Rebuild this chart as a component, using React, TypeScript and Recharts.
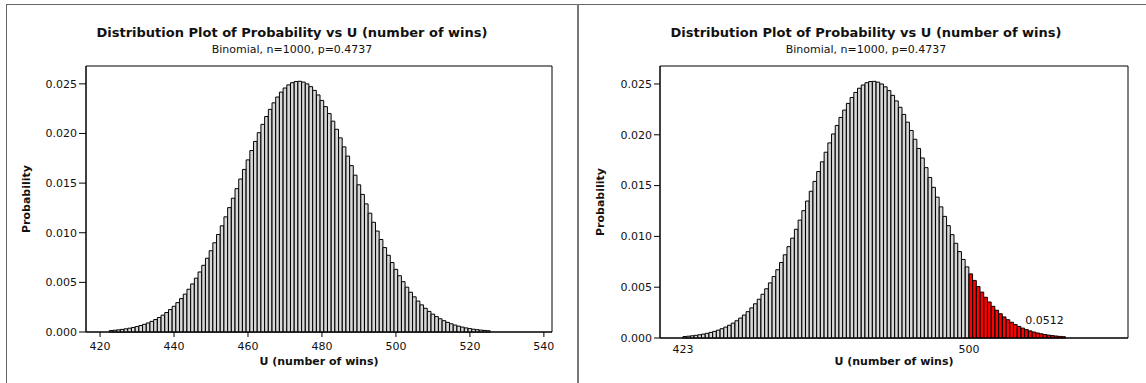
import React from 'react';
import { BarChart, Bar, XAxis, YAxis, ReferenceArea, ReferenceDot, Rectangle } from 'recharts';

// number of wins (one bar each)
const wins = [
  423, 424, 425, 426, 427, 428, 429, 430, 431, 432,
  433, 434, 435, 436, 437, 438, 439, 440, 441, 442,
  443, 444, 445, 446, 447, 448, 449, 450, 451, 452,
  453, 454, 455, 456, 457, 458, 459, 460, 461, 462,
  463, 464, 465, 466, 467, 468, 469, 470, 471, 472,
  473, 474, 475, 476, 477, 478, 479, 480, 481, 482,
  483, 484, 485, 486, 487, 488, 489, 490, 491, 492,
  493, 494, 495, 496, 497, 498, 499, 500, 501, 502,
  503, 504, 505, 506, 507, 508, 509, 510, 511, 512,
  513, 514, 515, 516, 517, 518, 519, 520, 521, 522,
  523, 524, 525,
];

// probability of each number of wins
const probability = [
  0.000146, 0.000178, 0.000217, 0.000264, 0.000318, 0.000383, 0.000459, 0.000549, 0.000652, 0.000773,
  0.000912, 0.001071, 0.001253, 0.001461, 0.001696, 0.001961, 0.002258, 0.00259, 0.002959, 0.003367,
  0.003816, 0.004308, 0.004843, 0.005423, 0.006048, 0.006718, 0.007433, 0.008191, 0.008989, 0.009827,
  0.010699, 0.011602, 0.01253, 0.013479, 0.014442, 0.015412, 0.016381, 0.017341, 0.018283, 0.0192,
  0.020082, 0.020921, 0.021708, 0.022433, 0.023091, 0.023672, 0.024171, 0.024582, 0.024899, 0.02512,
  0.025241, 0.025261, 0.025181, 0.024999, 0.02472, 0.024346, 0.023882, 0.023333, 0.022705, 0.022006,
  0.021242, 0.020424, 0.019558, 0.018654, 0.01772, 0.016766, 0.0158, 0.01483, 0.013863, 0.012908,
  0.01197, 0.011056, 0.010171, 0.00932, 0.008505, 0.007731, 0.006999, 0.006311, 0.005668, 0.00507,
  0.004517, 0.004008, 0.003542, 0.003118, 0.002733, 0.002387, 0.002076, 0.001798, 0.001551, 0.001333,
  0.001141, 0.000973, 0.000826, 0.000698, 0.000588, 0.000493, 0.000412, 0.000343, 0.000284, 0.000235,
  0.000193, 0.000158, 0.000129,
];

const leftTicks = [420, 440, 460, 480, 500, 520, 540];
const rightTicks = [423, 500];
const yTicks = [0, 0.005, 0.01, 0.015, 0.02, 0.025];

const tailStart = 500;
const tailArea = '0.0512';
const tailLabelAt = { u: 520.3, p: 0.00177 };

const title = 'Distribution Plot of Probability vs U (number of wins)';
const subtitle = 'Binomial, n=1000, p=0.4737';
const xTitle = 'U (number of wins)';
const yTitle = 'Probability';

const rows = wins.map((u, i) => ({ u, p: probability[i] }));

const FONT = '"DejaVu Sans", Verdana, sans-serif';
const BAR_FILL = '#d8d8d8';
const TAIL_FILL = '#ff0000';
const INK = '#111';

const tickStyle = { fill: INK, fontSize: 11, fontFamily: FONT };

const leftX: [number, number] = [416.2, 542.2];
const leftY: [number, number] = [0, 0.0268];
const rightX: [number, number] = [416.8, 542.8];
const rightY: [number, number] = [0, 0.02677];

const XTitle = ({ viewBox, baseline }: any) => {
  const { x, width } = viewBox;
  return (
    <text x={x + width / 2} y={baseline} textAnchor="middle" fontSize={11} fontWeight="bold" fontFamily={FONT} fill={INK}>
      {xTitle}
    </text>
  );
};

const YTitle = ({ viewBox, inset }: any) => {
  const { x, y, height } = viewBox;
  const cx = x + inset;
  const cy = y + height / 2;
  return (
    <text x={cx} y={cy} transform={`rotate(-90 ${cx} ${cy})`} textAnchor="middle" fontSize={11} fontWeight="bold" fontFamily={FONT} fill={INK}>
      {yTitle}
    </text>
  );
};

// right panel draws each bar from u to u+1 and shades the tail red
const TailBar = (props: any) => {
  const { x, width, payload } = props;
  return (
    <Rectangle
      {...props}
      x={x + width / 2}
      fill={payload.u >= tailStart ? TAIL_FILL : BAR_FILL}
      stroke="#000"
      strokeWidth={1}
    />
  );
};

const Titles = ({ cx }: { cx: number }) => (
  <>
    <text x={cx} y={37} textAnchor="middle" fontSize={13} fontWeight="bold" fontFamily={FONT} fill={INK}>
      {title}
    </text>
    <text x={cx} y={53} textAnchor="middle" fontSize={11} fontFamily={FONT} fill={INK}>
      {subtitle}
    </text>
  </>
);

export default function App() {
  return (
    <div style={{ position: 'absolute', left: 0, top: 0, width: 1146, height: 383, background: '#fff', overflow: 'hidden' }}>
      <div style={{ position: 'absolute', left: 0, top: 0 }}>
        <BarChart
          width={578}
          height={383}
          data={rows}
          margin={{ top: 66, right: 26, bottom: 15, left: 26 }}
          barCategoryGap={0}
          barGap={0}
          style={{ fontFamily: FONT }}
        >
          <XAxis
            dataKey="u"
            type="number"
            domain={leftX}
            ticks={leftTicks}
            interval={0}
            height={36}
            tickSize={5}
            tickMargin={5}
            axisLine={{ stroke: '#000' }}
            tickLine={{ stroke: '#000' }}
            tick={tickStyle}
            label={<XTitle baseline={365} />}
          />
          <YAxis
            type="number"
            domain={leftY}
            ticks={yTicks}
            interval={0}
            width={60}
            tickSize={7}
            tickMargin={2}
            tickFormatter={(v: number) => v.toFixed(3)}
            axisLine={{ stroke: '#000' }}
            tickLine={{ stroke: '#000' }}
            tick={tickStyle}
            label={<YTitle inset={4} />}
          />
          <Bar dataKey="p" fill={BAR_FILL} stroke="#000" strokeWidth={1} barSize={3.6} isAnimationActive={false} />
          <ReferenceArea x1={leftX[0]} x2={leftX[1]} y1={leftY[0]} y2={leftY[1]} fill="none" stroke="#000" ifOverflow="visible" />
        </BarChart>
      </div>

      <div style={{ position: 'absolute', left: 579, top: 0 }}>
        <BarChart
          width={567}
          height={383}
          data={rows}
          margin={{ top: 66, right: 18, bottom: 9, left: 21 }}
          barCategoryGap={0}
          barGap={0}
          style={{ fontFamily: FONT }}
        >
          <XAxis
            dataKey="u"
            type="number"
            domain={rightX}
            ticks={rightTicks}
            interval={0}
            height={36}
            tickSize={5}
            tickMargin={2}
            axisLine={{ stroke: '#000' }}
            tickLine={false}
            tick={tickStyle}
            label={<XTitle baseline={365} />}
          />
          <YAxis
            type="number"
            domain={rightY}
            ticks={yTicks}
            interval={0}
            width={60}
            tickSize={6}
            tickMargin={2}
            tickFormatter={(v: number) => v.toFixed(3)}
            axisLine={{ stroke: '#000' }}
            tickLine={{ stroke: '#000' }}
            tick={tickStyle}
            label={<YTitle inset={3.6} />}
          />
          <Bar dataKey="p" fill={BAR_FILL} stroke="#000" strokeWidth={1} barSize={3.6} shape={TailBar} isAnimationActive={false} />
          <ReferenceArea x1={rightX[0]} x2={rightX[1]} y1={rightY[0]} y2={rightY[1]} fill="none" stroke="#000" ifOverflow="visible" />
          <ReferenceDot
            x={tailLabelAt.u}
            y={tailLabelAt.p}
            r={1}
            fill="none"
            stroke="none"
            ifOverflow="visible"
            label={{ value: tailArea, position: 'center', fontSize: 11, fill: INK, fontFamily: FONT }}
          />
        </BarChart>
      </div>

      <svg width={1146} height={383} style={{ position: 'absolute', left: 0, top: 0, pointerEvents: 'none' }}>
        <line x1={6} y1={4.5} x2={1146} y2={4.5} stroke="#666" strokeWidth={1} />
        <line x1={6.5} y1={4} x2={6.5} y2={383} stroke="#666" strokeWidth={1} />
        <rect x={577} y={4} width={2} height={379} fill="#777" />
        <Titles cx={292} />
        <Titles cx={866} />
      </svg>
    </div>
  );
}
